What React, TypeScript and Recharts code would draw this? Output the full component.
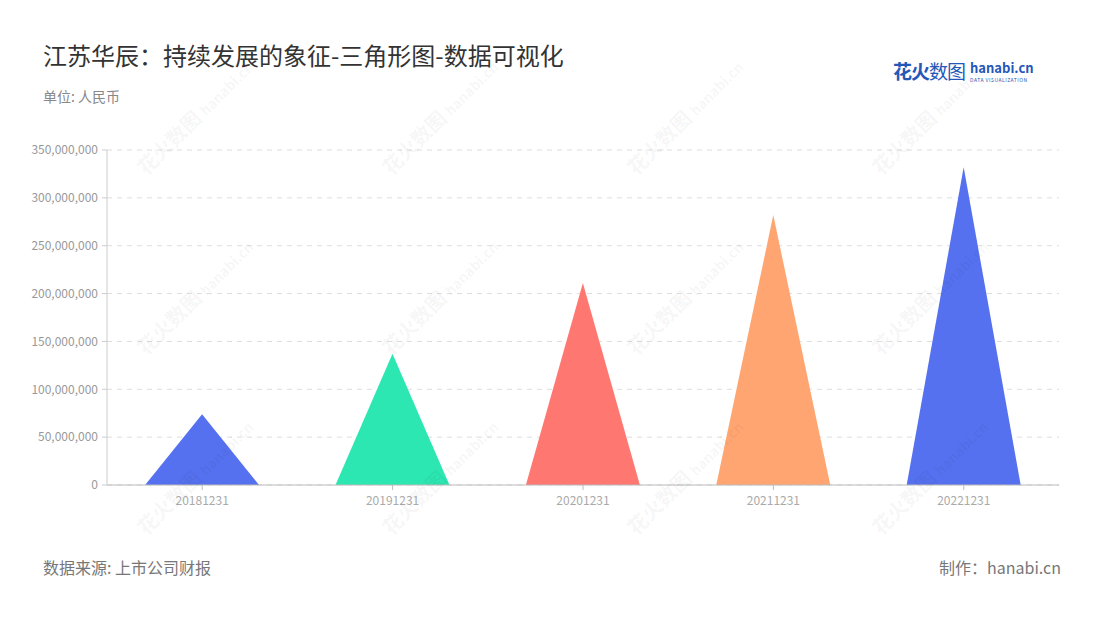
import { BarChart, Bar, XAxis, YAxis, CartesianGrid, Cell } from 'recharts'

const DATES = ['20181231', '20191231', '20201231', '20211231', '20221231']
const VALUES = [74000000, 137000000, 211000000, 282000000, 332000000]
const COLORS = ['#5671EF', '#2DE7B2', '#FF7771', '#FFA571', '#5671EF']
const Y_TICKS = [0, 50000000, 100000000, 150000000, 200000000, 250000000, 300000000, 350000000]

const FONT = '"Noto Sans CJK SC", "Noto Sans", sans-serif'

const WM_X = [130, 375, 620, 865]
const WM_Y = [160, 340, 520]

const chartData = DATES.map((d, i) => ({ date: d, value: VALUES[i] }))

// 三角形柱子
function Triangle(props: any) {
  const { x, y, width, height, fill } = props
  if (!height || height <= 0) return null
  const d = `M${x},${y + height} L${x + width / 2},${y} L${x + width},${y + height} Z`
  return <path d={d} fill={fill} />
}

function Watermarks() {
  const marks = []
  for (const wx of WM_X) {
    for (const wy of WM_Y) {
      marks.push(
        <div
          key={`${wx}-${wy}`}
          style={{
            position: 'absolute', left: wx, top: wy, transform: 'rotate(-45deg)', transformOrigin: 'left top',
            color: 'rgba(0,0,0,0.055)', fontSize: 20, fontWeight: 700, whiteSpace: 'nowrap', pointerEvents: 'none',
          }}
        >
          花火数图 <span style={{ fontSize: 14 }}>hanabi.cn</span>
        </div>
      )
    }
  }
  return <>{marks}</>
}

export default function App() {
  return (
    <div style={{ position: 'fixed', left: 0, top: 0, width: 1100, height: 620, background: '#fff', fontFamily: FONT, overflow: 'hidden' }}>
      <div style={{ position: 'absolute', left: 43, top: 37, fontSize: 24, fontWeight: 400, color: '#333' }}>
        江苏华辰：持续发展的象征-三角形图-数据可视化
      </div>
      <div style={{ position: 'absolute', left: 43, top: 86, fontSize: 14, color: '#888' }}>单位: 人民币</div>

      <div style={{ position: 'absolute', left: 893, top: 59, display: 'flex', alignItems: 'center' }}>
        <span style={{ fontSize: 19, fontWeight: 700, color: '#2457B8', letterSpacing: -1, lineHeight: '24px' }}>花火</span>
        <span style={{ fontSize: 19, color: '#2457B8', letterSpacing: -1, lineHeight: '24px' }}>数图</span>
        <div style={{ marginLeft: 5, display: 'flex', flexDirection: 'column' }}>
          <div style={{ fontSize: 13, fontWeight: 700, color: '#2457B8', lineHeight: '13px', marginBottom: 3 }}>hanabi.cn</div>
          <div style={{ fontSize: 5, color: '#2457B8', letterSpacing: 0.5, lineHeight: '5px' }}>DATA VISUALIZATION</div>
        </div>
      </div>

      <BarChart
        width={1100}
        height={620}
        data={chartData}
        margin={{ top: 150, right: 41, left: 0, bottom: 105 }}
        barCategoryGap="20%"
        style={{ position: 'absolute', left: 0, top: 0 }}
      >
        <CartesianGrid vertical={false} stroke="#ddd" strokeDasharray="5 5" />
        <XAxis
          dataKey="date"
          stroke="#bbb"
          tick={{ fontSize: 12, fill: '#aaa' }}
          tickSize={5}
          tickMargin={6}
        />
        <YAxis
          width={107}
          domain={[0, 350000000]}
          ticks={Y_TICKS}
          stroke="#ccc"
          tick={{ fontSize: 12, fill: '#999' }}
          tickSize={5}
          tickMargin={4}
          tickFormatter={(v: number) => v.toLocaleString('en-US')}
        />
        <Bar dataKey="value" shape={<Triangle />} isAnimationActive={false}>
          {chartData.map((e, i) => (
            <Cell key={e.date} fill={COLORS[i]} />
          ))}
        </Bar>
      </BarChart>

      <Watermarks />

      <div style={{ position: 'absolute', left: 43, top: 555, fontSize: 16, color: '#777' }}>数据来源: 上市公司财报</div>
      <div style={{ position: 'absolute', right: 39, top: 555, fontSize: 16, color: '#777' }}>制作：hanabi.cn</div>
    </div>
  )
}
